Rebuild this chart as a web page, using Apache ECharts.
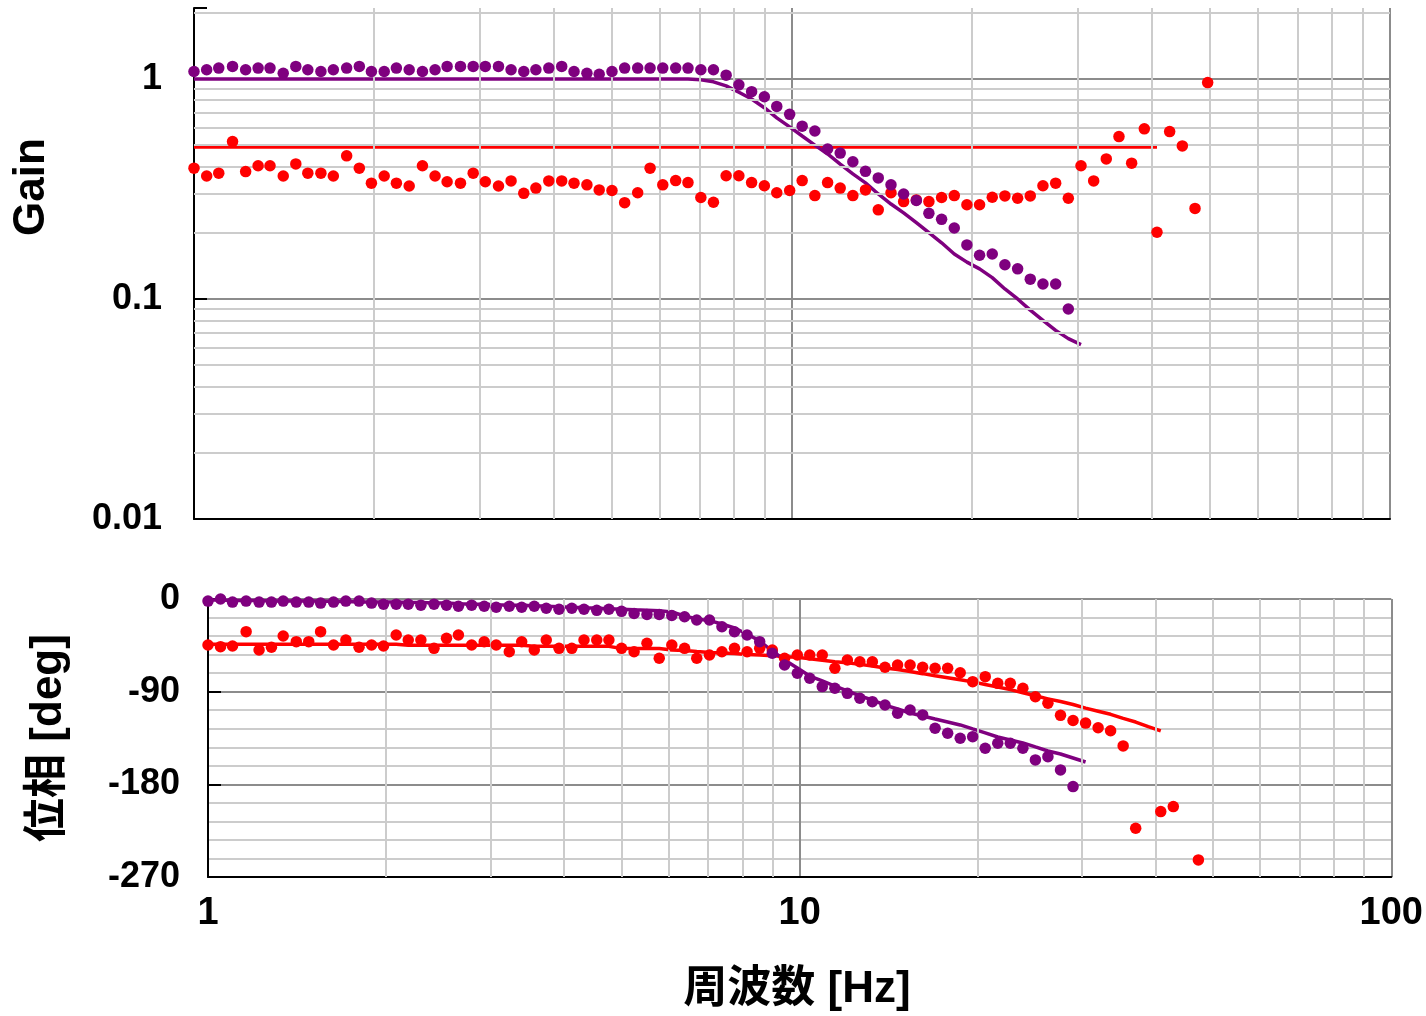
<!DOCTYPE html>
<html>
<head>
<meta charset="utf-8">
<title>Bode</title>
<script src="https://cdn.jsdelivr.net/npm/echarts@6/dist/echarts.min.js"></script>
<style>
  html, body { margin: 0; padding: 0; background: #fff; }
  #main { width: 1426px; height: 1016px; }
</style>
</head>
<body>
<div id="main"></div>
<script>
var freq = [1.00, 1.05, 1.10, 1.16, 1.22, 1.28, 1.34, 1.41, 1.48, 1.55,
  1.63, 1.71, 1.80, 1.89, 1.98, 2.08, 2.18, 2.29, 2.41, 2.53,
  2.65, 2.79, 2.93, 3.07, 3.23, 3.39, 3.56, 3.73, 3.92, 4.12,
  4.32, 4.54, 4.76, 5.00, 5.25, 5.52, 5.79, 6.08, 6.39, 6.70,
  7.04, 7.39, 7.76, 8.15, 8.56, 8.99, 9.43, 9.91, 10.40, 10.92,
  11.47, 12.04, 12.64, 13.27, 13.94, 14.64, 15.37, 16.14, 16.94, 17.79,
  18.68, 19.61, 20.59, 21.62, 22.70, 23.84, 25.03, 26.28, 27.60, 28.98,
  30.43, 31.95, 33.54, 35.22, 36.98, 38.83, 40.77, 42.81, 44.95, 47.20,
  49.56];

// gain, purple (measured)
var gainPurpleDots = [1.08, 1.10, 1.12, 1.14, 1.10, 1.12, 1.12, 1.06, 1.14, 1.10,
  1.08, 1.10, 1.12, 1.14, 1.08, 1.08, 1.12, 1.10, 1.08, 1.10,
  1.14, 1.14, 1.14, 1.14, 1.14, 1.10, 1.08, 1.10, 1.12, 1.14,
  1.08, 1.06, 1.05, 1.08, 1.12, 1.12, 1.12, 1.12, 1.12, 1.12,
  1.10, 1.10, 1.04, 0.94, 0.875, 0.83, 0.75, 0.69, 0.61, 0.58,
  0.48, 0.46, 0.42, 0.38, 0.355, 0.33, 0.30, 0.28, 0.245, 0.23,
  0.21, 0.176, 0.158, 0.16, 0.143, 0.137, 0.123, 0.117, 0.117, 0.090,
  null, null, null, null, null, null, null, null, null, null, null];

// gain, purple (model)
var gainPurpleLine = [1, 1, 1, 1, 1, 1, 1, 1, 1, 1,
  1, 1, 1, 1, 1, 1, 1, 1, 1, 1,
  1, 1, 1, 1, 1, 1, 1, 1, 1, 1,
  1, 1, 1, 1, 1, 1, 1, 1, 1, 1,
  0.99, 0.97, 0.93, 0.87, 0.81, 0.74, 0.665, 0.605, 0.55, 0.50,
  0.456, 0.41, 0.37, 0.337, 0.30, 0.27, 0.246, 0.222, 0.20, 0.18,
  0.16, 0.147, 0.137, 0.125, 0.111, 0.10, 0.089, 0.08, 0.072, 0.066,
  0.062, null, null, null, null, null, null, null, null, null, null];

// gain, red (measured)
var gainRedDots = [0.393, 0.362, 0.373, 0.519, 0.379, 0.403, 0.403, 0.362, 0.411, 0.373,
  0.373, 0.362, 0.447, 0.393, 0.336, 0.362, 0.336, 0.326, 0.403, 0.362,
  0.341, 0.336, 0.373, 0.341, 0.326, 0.344, 0.302, 0.319, 0.344, 0.344,
  0.336, 0.330, 0.313, 0.311, 0.274, 0.304, 0.393, 0.330, 0.345, 0.338,
  0.289, 0.275, 0.363, 0.363, 0.338, 0.327, 0.304, 0.311, 0.345, 0.295,
  0.338, 0.319, 0.295, 0.313, 0.254, 0.304, 0.277, 0.282, 0.277, 0.289,
  0.295, 0.268, 0.268, 0.290, 0.294, 0.287, 0.294, 0.327, 0.336, 0.287,
  0.403, 0.344, 0.433, 0.547, 0.414, 0.593, 0.201, 0.576, 0.496, 0.258,
  0.962];

// gain, red (model, flat)
var gainRedLine = [];
for (var k = 0; k <= 76; k++) { gainRedLine.push(0.49); }

// phase, purple (measured)
var phasePurpleDots = [-2, 0, -3, -2, -3, -3, -2, -3, -3, -4,
  -3, -2, -2, -4, -5, -5, -5, -6, -5, -6,
  -7, -6, -7, -8, -7, -8, -7, -9, -10, -9,
  -10, -11, -10, -12, -14, -15, -15, -16, -17.2, -20.4,
  -20.4, -26.9, -31.8, -35, -41.4, -52.7, -64.1, -72.1, -77, -85.1,
  -86.7, -91.6, -96.4, -99.7, -102.9, -111, -107.8, -112.6, -125.5, -130.4,
  -135.3, -133.7, -145, -140.1, -140.1, -145, -156.3, -153.1, -166, -182.2];

// phase, purple (model)
var phasePurpleLine = [-1, -1, -1.5, -1.5, -1.5, -2, -2, -2, -2, -2,
  -2.5, -2.5, -3, -3, -3, -3, -3.5, -3.5, -4, -4,
  -4.5, -5, -5, -5.5, -6, -6, -6.5, -7, -7.5, -8,
  -8.5, -9, -9.5, -10, -10.5, -11, -11.5, -12.6, -16.5, -19.4,
  -21, -24.3, -28.2, -34, -40.8, -50.5, -59.2, -67, -74.8, -79.6,
  -84.5, -89.3, -94.2, -98, -103, -106.8, -110.7, -113.6, -116.5, -119.4,
  -122.3, -126.2, -130, -134, -136.9, -139.8, -143.7, -147.6, -150.5, -154.4,
  -158.3];

// phase, red (measured)
var phaseRedDots = [-44.7, -46.3, -45.6, -31.7, -49.5, -46.9, -35.9, -41.4, -41.4, -31.7,
  -44.7, -39.8, -46.9, -44.7, -45.6, -35, -39.8, -39.8, -47.9, -38.2,
  -35, -44.7, -41.5, -44.7, -51.2, -41.5, -49.5, -39.8, -47.9, -47.9,
  -39.8, -39.8, -39.8, -47.9, -51.2, -43, -57.6, -44.7, -47.9, -57.6,
  -54.4, -51.2, -47.9, -51.2, -47.9, -49.5, -57.6, -54.4, -54.4, -54.4,
  -67.3, -59.2, -60.9, -60.9, -66.3, -64.1, -64.1, -66.3, -67.3, -67.3,
  -71.6, -80.3, -75.4, -81.9, -81.9, -86.7, -94.9, -101.3, -113, -118,
  -120.5, -125, -128, -142.7, -222.6, null, -206.5, -201.6, null, -253.4,
  null];

// phase, red (model)
var phaseRedLine = [-44, -44, -44, -44, -44, -44, -44, -44, -44, -44,
  -44, -44, -44, -44, -44, -44, -45, -45, -45, -45,
  -45, -45, -45, -45, -45, -45, -46, -46, -46, -46,
  -46, -46, -46, -48, -48, -48, -48, -49.5, -50, -51,
  -52, -52.5, -53, -54, -54.5, -55, -56, -56.5, -58, -59.5,
  -61, -62, -63.5, -65, -67, -68.5, -70.5, -72.5, -74.5, -76.5,
  -78.5, -80.5, -83, -85.5, -88, -91, -94, -97, -99.5, -102.5,
  -106, -109, -112, -116, -119.5, -124, -128];

// axis ticks
var gainLabels = ['0.01', '0.1', '1'];
var gainMinor = [0.02, 0.03, 0.04, 0.05, 0.06, 0.07, 0.08, 0.09,
  0.2, 0.3, 0.4, 0.5, 0.6, 0.7, 0.8, 0.9, 2];
var freqMinor = [2, 3, 4, 5, 6, 7, 8, 9, 20, 30, 40, 50, 60, 70, 80, 90];

var PURPLE = '#7f007f';
var RED = '#ff0000';
var MINOR = '#cccccc';
var MAJOR = '#8c8c8c';
var FONT = '"Liberation Sans", Arial, "Noto Sans CJK JP", sans-serif';

function pairs(vals) {
  var out = [];
  vals.forEach(function (v, i) {
    if (v !== null && v !== undefined) out.push([freq[i], v]);
  });
  return out;
}

function gridLines(xs, ys) {
  var d = [];
  xs.forEach(function (v) { d.push({ xAxis: v }); });
  ys.forEach(function (v) { d.push({ yAxis: v }); });
  return d;
}

function dots(name, vals, color, g) {
  return {
    name: name, type: 'scatter', xAxisIndex: g, yAxisIndex: g,
    data: pairs(vals), symbol: 'circle', symbolSize: 11.5,
    itemStyle: { color: color, opacity: 1 }, z: 5, silent: true
  };
}

function model(name, vals, color, g) {
  return {
    name: name, type: 'line', xAxisIndex: g, yAxisIndex: g,
    data: pairs(vals), showSymbol: false, symbol: 'none',
    lineStyle: { color: color, width: 3.5 }, z: 3, silent: true
  };
}

var chart = echarts.init(document.getElementById('main'));

var yLabel = { fontSize: 36, fontWeight: 'bold', color: '#000', fontFamily: FONT };

var option = {
  animation: false,
  textStyle: { fontFamily: FONT },
  grid: [
    { left: 194, top: 8, width: 1196, height: 511 },
    { left: 208, top: 599, width: 1185, height: 278 }
  ],
  xAxis: [{
    type: 'log', gridIndex: 0, min: 1, max: 100, logBase: 10,
    axisLine: { onZero: false, lineStyle: { color: '#000', width: 2 } },
    axisTick: { show: false },
    axisLabel: { show: false },
    splitLine: { show: true, lineStyle: { color: MAJOR, width: 2 } }
  }, {
    type: 'log', gridIndex: 1, min: 1, max: 100, logBase: 10,
    axisLine: { onZero: false, lineStyle: { color: '#000', width: 2 } },
    axisTick: { show: false },
    axisLabel: { fontSize: 38, fontWeight: 'bold', color: '#000', margin: 18, fontFamily: FONT },
    splitLine: { show: true, lineStyle: { color: MAJOR, width: 2 } }
  }],
  yAxis: [{
    type: 'log', gridIndex: 0, min: 0.01, max: 2.1, logBase: 10,
    axisLine: { show: true, onZero: false, lineStyle: { color: '#000', width: 2 } },
    axisTick: { show: true, inside: true, length: 13, lineStyle: { color: '#000', width: 2 } },
    axisLabel: Object.assign({}, yLabel, {
      margin: 32,
      formatter: function (v) {
        var s = String(v);
        return gainLabels.indexOf(s) >= 0 ? s : '';
      }
    }),
    splitLine: { show: true, showMaxLine: false, lineStyle: { color: MAJOR, width: 2 } }
  }, {
    type: 'value', gridIndex: 1, min: -270, max: 0, interval: 90,
    axisLine: { show: true, onZero: false, lineStyle: { color: '#000', width: 2 } },
    axisTick: { show: true, inside: true, length: 13, lineStyle: { color: '#000', width: 2 } },
    axisLabel: Object.assign({}, yLabel, { margin: 28 }),
    minorTick: { show: false, splitNumber: 5 },
    minorSplitLine: { show: true, lineStyle: { color: MINOR, width: 2 } },
    splitLine: { show: true, lineStyle: { color: MAJOR, width: 2 } }
  }],
  graphic: [{
    type: 'text', x: 32, y: 187, rotation: Math.PI / 2,
    style: { text: 'Gain', fontSize: 44, fontWeight: 'bold', fontFamily: FONT, fill: '#000', align: 'center', verticalAlign: 'middle' }
  }, {
    type: 'text', x: 49, y: 738, rotation: Math.PI / 2,
    style: { text: '位相 [deg]', fontSize: 44, fontWeight: 'bold', fontFamily: FONT, fill: '#000', align: 'center', verticalAlign: 'middle' }
  }, {
    type: 'text', x: 797, y: 990,
    style: { text: '周波数 [Hz]', fontSize: 44, fontWeight: 'bold', fontFamily: FONT, fill: '#000', align: 'center', verticalAlign: 'middle' }
  }],
  series: [{
    type: 'line', xAxisIndex: 0, yAxisIndex: 0, data: [], z: 1, silent: true,
    markLine: {
      silent: true, symbol: ['none', 'none'], label: { show: false },
      lineStyle: { color: MINOR, width: 2, type: 'solid' },
      emphasis: { disabled: true },
      data: gridLines(freqMinor, gainMinor)
    }
  }, {
    type: 'line', xAxisIndex: 1, yAxisIndex: 1, data: [], z: 1, silent: true,
    markLine: {
      silent: true, symbol: ['none', 'none'], label: { show: false },
      lineStyle: { color: MINOR, width: 2, type: 'solid' },
      emphasis: { disabled: true },
      data: gridLines(freqMinor, [])
    }
  },
    model('gain model red', gainRedLine, RED, 0),
    model('gain model purple', gainPurpleLine, PURPLE, 0),
    dots('gain red', gainRedDots, RED, 0),
    dots('gain purple', gainPurpleDots, PURPLE, 0),
    model('phase model red', phaseRedLine, RED, 1),
    model('phase model purple', phasePurpleLine, PURPLE, 1),
    dots('phase red', phaseRedDots, RED, 1),
    dots('phase purple', phasePurpleDots, PURPLE, 1)
  ]
};

chart.setOption(option);
</script>
</body>
</html>
